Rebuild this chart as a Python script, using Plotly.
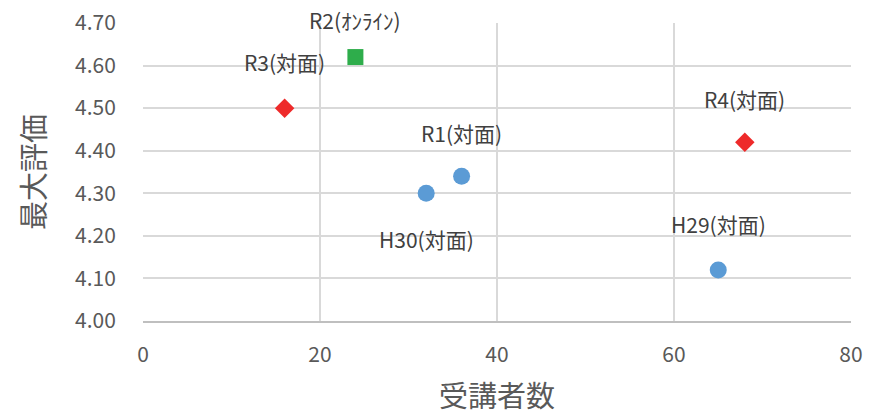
import plotly.graph_objects as go

labels = ["H29(対面)", "H30(対面)", "R1(対面)", "R2(ｵﾝﾗｲﾝ)", "R3(対面)", "R4(対面)"]
students = [65, 32, 36, 24, 16, 68]
max_rating = [4.12, 4.30, 4.34, 4.62, 4.50, 4.42]
groups = ["対面(H)", "対面(H)", "対面(H)", "オンライン", "対面(R)", "対面(R)"]

x_ticks = [0, 20, 40, 60, 80]
y_ticks = [4.0, 4.1, 4.2, 4.3, 4.4, 4.5, 4.6, 4.7]

style = {
    "対面(H)": dict(color="#5B9BD5", symbol="circle", size=17),
    "オンライン": dict(color="#2EAD4B", symbol="square", size=16),
    "対面(R)": dict(color="#EE2A2A", symbol="diamond", size=15),
}
label_shift = {"H30(対面)": -46, "R2(ｵﾝﾗｲﾝ)": 37, "R3(対面)": 46, "H29(対面)": 46}

FONT = "Noto Sans CJK JP"
fig = go.Figure()
for g, st in style.items():
    xs = [x for x, gg in zip(students, groups) if gg == g]
    ys = [y for y, gg in zip(max_rating, groups) if gg == g]
    fig.add_trace(go.Scatter(x=xs, y=ys, mode="markers", name=g,
                             marker=dict(color=st["color"], symbol=st["symbol"], size=st["size"],
                                         line=dict(width=0)),
                             showlegend=False))

for lab, x, y in zip(labels, students, max_rating):
    fig.add_annotation(x=x, y=y, text=lab, showarrow=False,
                       yshift=label_shift.get(lab, 43),
                       font=dict(family=FONT, size=21, color="#404040"))

fig.update_layout(
    width=869, height=419,
    margin=dict(l=143, r=18, t=23, b=98),
    paper_bgcolor="white", plot_bgcolor="white",
    font=dict(family=FONT, color="#595959"),
)
fig.update_xaxes(range=[0, 80], tickvals=x_ticks, showgrid=True, gridcolor="#D9D9D9", gridwidth=1.5,
                 zeroline=False, showline=True, linecolor="#BFBFBF", linewidth=1.5,
                 tickfont=dict(size=21, color="#595959"), ticks="outside", ticklen=14,
                 tickcolor="rgba(0,0,0,0)", automargin=False, ticklabeloverflow="allow",
                 title=dict(text="受講者数", font=dict(size=29, color="#595959"), standoff=20))
fig.update_yaxes(range=[4.0, 4.7], tickvals=y_ticks, tickformat=".2f", showgrid=True,
                 gridcolor="#D9D9D9", gridwidth=1.5, zeroline=False, showline=False,
                 tickfont=dict(size=21, color="#595959"), ticks="outside", ticklen=22,
                 tickcolor="rgba(0,0,0,0)", automargin=False, ticklabeloverflow="allow",
                 title=dict(text="最大評価", font=dict(size=29, color="#595959"), standoff=20))

fig.write_html("out.html", config={"displayModeBar": False},
               post_script="document.body.style.margin='0';document.body.style.padding='0';")
